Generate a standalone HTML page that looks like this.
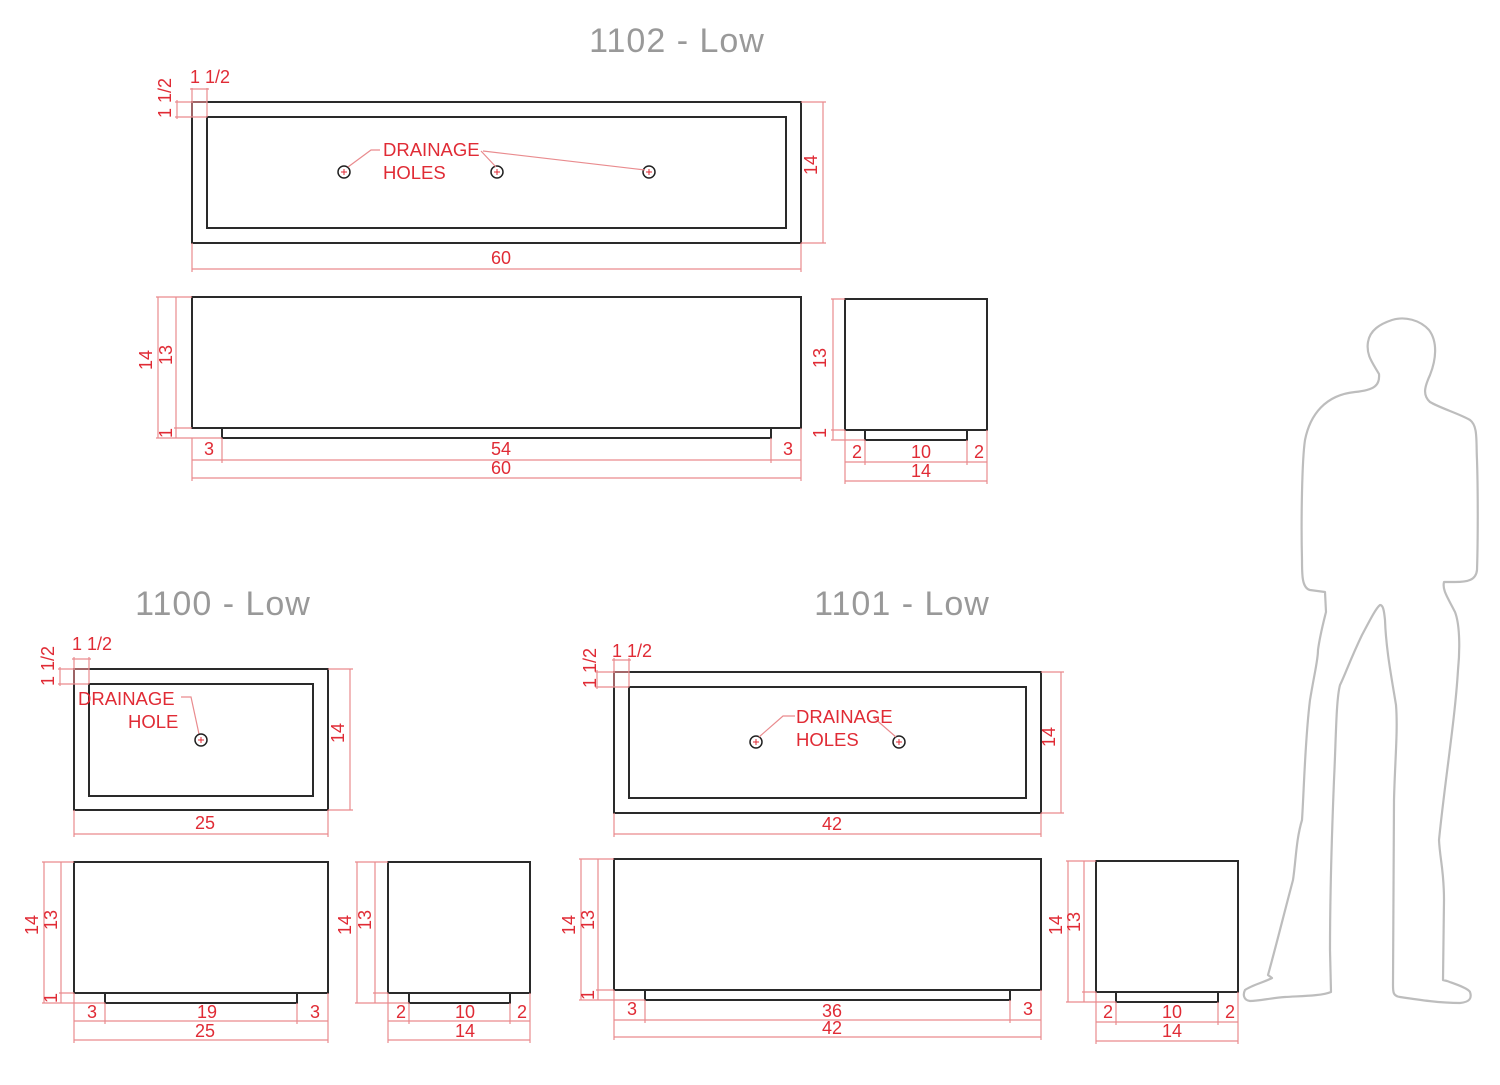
<!DOCTYPE html>
<html><head><meta charset="utf-8"><style>
html,body{margin:0;padding:0;background:#fff}
svg{display:block}
.k{fill:none;stroke:#2a2a2a;stroke-width:2}
.d{stroke:#e98b8e;stroke-width:1.2;fill:none}
.t{fill:#e02b35;font-family:"Liberation Sans",sans-serif;font-size:18px;text-anchor:middle}
.l{fill:#e02b35;font-family:"Liberation Sans",sans-serif;font-size:18.5px}
.h{fill:#999;font-family:"Liberation Sans",sans-serif;font-size:34px;text-anchor:middle;letter-spacing:1px}
.c{fill:none;stroke:#222;stroke-width:1.5}
.p{stroke:#e02b35;stroke-width:1}
</style></head><body>
<svg width="1500" height="1085" viewBox="0 0 1500 1085" xmlns="http://www.w3.org/2000/svg">
<text class="h" x="677" y="52">1102 - Low</text>
<text class="h" x="223" y="615">1100 - Low</text>
<text class="h" x="902" y="615">1101 - Low</text>

<rect class="k" x="192" y="102" width="609" height="141"/>
<rect class="k" x="207" y="117" width="579" height="111"/>
<path class="d" d="M801 102H826M801 243H826M823 102V243M192 243V272M801 243V272M192 269H801
M192 88V117M207 88V117M190 89H209M175 102H207M175 117H207M177 100V119"/>
<text class="t" transform="translate(817,165) rotate(-90)">14</text>
<text class="t" x="501" y="264">60</text>
<text class="t" x="210" y="83">1 1/2</text>
<text class="t" transform="translate(171,98) rotate(-90)">1 1/2</text>
<circle class="c" cx="344" cy="172" r="6"/><path class="p" d="M341 172H347M344 169V175"/>
<circle class="c" cx="497" cy="172" r="6"/><path class="p" d="M494 172H500M497 169V175"/>
<circle class="c" cx="649" cy="172" r="6"/><path class="p" d="M646 172H652M649 169V175"/>
<path class="d" d="M348 167L371 150H380M481 151L496 167M483 151L645 170"/>
<text class="l" x="383" y="156">DRAINAGE</text>
<text class="l" x="383" y="179">HOLES</text>

<rect class="k" x="192" y="297" width="609" height="131"/>
<rect class="k" x="222" y="428" width="549" height="10"/>
<path class="d" d="M156 297H192M174 428H192M156 438H222M158 297V438M176 297V438
M192 438V481M222 438V463M771 438V463M801 428V481M192 460H801M192 478H801"/>
<text class="t" transform="translate(152,360) rotate(-90)">14</text>
<text class="t" transform="translate(172,355) rotate(-90)">13</text>
<text class="t" transform="translate(172,433) rotate(-90)">1</text>
<text class="t" x="209" y="455">3</text><text class="t" x="501" y="455">54</text><text class="t" x="788" y="455">3</text>
<text class="t" x="501" y="474">60</text>
<rect class="k" x="845" y="299" width="142" height="131"/>
<rect class="k" x="865" y="430" width="102" height="10"/>
<path class="d" d="M831 299H845M831 430H845M831 440H865M833 299V440
M845 430V484M865 440V465M967 440V465M987 430V484M845 462H987M845 481H987"/>
<text class="t" transform="translate(826,358) rotate(-90)">13</text>
<text class="t" transform="translate(826,433) rotate(-90)">1</text>
<text class="t" x="857" y="458">2</text><text class="t" x="921" y="458">10</text><text class="t" x="979" y="458">2</text>
<text class="t" x="921" y="477">14</text>

<rect class="k" x="74" y="669" width="254" height="141"/>
<rect class="k" x="89" y="684" width="224" height="112"/>
<path class="d" d="M328 669H353M328 810H353M350 669V810M74 810V837M328 810V837M74 834H328
M74 657V684M89 657V684M72 659H91M58 669H89M58 684H89M60 667V686"/>
<text class="t" transform="translate(344,733) rotate(-90)">14</text>
<text class="t" x="205" y="829">25</text>
<text class="t" x="92" y="650">1 1/2</text>
<text class="t" transform="translate(54,666) rotate(-90)">1 1/2</text>
<text class="l" x="78" y="705">DRAINAGE</text>
<text class="l" x="128" y="728">HOLE</text>
<path class="d" d="M181 697H191L199 734"/>
<circle class="c" cx="201" cy="740" r="6"/><path class="p" d="M198 740H204M201 737V743"/>
<rect class="k" x="74" y="862" width="254" height="131"/>
<rect class="k" x="105" y="993" width="192" height="10"/>
<path class="d" d="M42 862H74M59 993H74M42 1003H105M44 862V1003M61 862V1003
M74 993V1043M105 1003V1024M297 1003V1024M328 993V1043M74 1021H328M74 1040H328"/>
<text class="t" transform="translate(38,925) rotate(-90)">14</text>
<text class="t" transform="translate(57,920) rotate(-90)">13</text>
<text class="t" transform="translate(57,998) rotate(-90)">1</text>
<text class="t" x="92" y="1018">3</text><text class="t" x="207" y="1018">19</text><text class="t" x="315" y="1018">3</text>
<text class="t" x="205" y="1037">25</text>
<rect class="k" x="388" y="862" width="142" height="131"/>
<rect class="k" x="409" y="993" width="101" height="10"/>
<path class="d" d="M355 862H388M373 993H388M355 1003H409M357 862V1003M375 862V1003
M388 993V1043M409 1003V1024M510 1003V1024M530 993V1043M388 1021H530M388 1040H530"/>
<text class="t" transform="translate(351,925) rotate(-90)">14</text>
<text class="t" transform="translate(371,920) rotate(-90)">13</text>
<text class="t" x="401" y="1018">2</text><text class="t" x="465" y="1018">10</text><text class="t" x="522" y="1018">2</text>
<text class="t" x="465" y="1037">14</text>

<rect class="k" x="614" y="672" width="427" height="141"/>
<rect class="k" x="629" y="687" width="397" height="111"/>
<path class="d" d="M1041 672H1064M1041 813H1064M1061 672V813M614 813V837M1041 813V837M614 834H1041
M614 658V687M629 658V687M612 660H631M595 672H629M595 687H629M597 670V689"/>
<text class="t" transform="translate(1055,737) rotate(-90)">14</text>
<text class="t" x="832" y="830">42</text>
<text class="t" x="632" y="657">1 1/2</text>
<text class="t" transform="translate(596,668) rotate(-90)">1 1/2</text>
<circle class="c" cx="756" cy="742" r="6"/><path class="p" d="M753 742H759M756 739V745"/>
<circle class="c" cx="899" cy="742" r="6"/><path class="p" d="M896 742H902M899 739V745"/>
<path class="d" d="M759 737L783 716H795M873 717L896 737"/>
<text class="l" x="796" y="723">DRAINAGE</text>
<text class="l" x="796" y="746">HOLES</text>
<rect class="k" x="614" y="859" width="427" height="131"/>
<rect class="k" x="645" y="990" width="365" height="10"/>
<path class="d" d="M579 859H614M596 990H614M579 1000H645M581 859V1000M598 859V1000
M614 990V1040M645 1000V1023M1010 1000V1023M1041 990V1040M614 1020H1041M614 1037H1041"/>
<text class="t" transform="translate(575,925) rotate(-90)">14</text>
<text class="t" transform="translate(594,920) rotate(-90)">13</text>
<text class="t" transform="translate(594,995) rotate(-90)">1</text>
<text class="t" x="632" y="1015">3</text><text class="t" x="832" y="1017">36</text><text class="t" x="1028" y="1015">3</text>
<text class="t" x="832" y="1034">42</text>
<rect class="k" x="1096" y="861" width="142" height="131"/>
<rect class="k" x="1116" y="992" width="102" height="10"/>
<path class="d" d="M1066 861H1096M1082 992H1096M1066 1002H1116M1068 861V1002M1084 861V1002
M1096 992V1044M1116 1002V1025M1218 1002V1025M1238 992V1044M1096 1022H1238M1096 1041H1238"/>
<text class="t" transform="translate(1062,925) rotate(-90)">14</text>
<text class="t" transform="translate(1080,922) rotate(-90)">13</text>
<text class="t" x="1108" y="1018">2</text><text class="t" x="1172" y="1018">10</text><text class="t" x="1230" y="1018">2</text>
<text class="t" x="1172" y="1037">14</text>

<path fill="none" stroke="#bdbdbd" stroke-width="2.2" stroke-linejoin="round" d="
M1379 374 C1372 362 1366 355 1368 342 C1370 330 1380 324 1392 320 C1405 316 1420 320 1429 330
C1438 342 1436 360 1430 375 C1425 386 1422 395 1430 402 C1440 408 1460 414 1470 420
C1478 426 1476 440 1477 460 C1478 490 1478 540 1477 570 C1476 580 1468 582 1455 582 L1444 582
C1442 590 1448 598 1455 612 C1460 625 1460 650 1458 670 C1455 720 1445 780 1439 840
C1440 860 1444 870 1444 900 L1443 980 L1447 981 C1455 984 1468 988 1470 992 C1472 998 1470 1002 1460 1003
C1440 1003 1420 1000 1400 997 C1393 996 1393 992 1393 985 L1394 800 C1395 760 1398 730 1396 705
C1392 680 1386 650 1385 620 C1384 610 1383 605 1380 605 C1376 608 1370 620 1362 635
C1350 660 1345 675 1340 685 C1336 700 1336 740 1334 780 C1332 830 1330 900 1330 950 L1331 992
C1322 996 1300 996 1285 997 C1270 998 1260 1001 1250 1001 C1243 1000 1243 994 1245 990
C1252 985 1265 982 1272 978 L1268 975 C1275 950 1285 910 1293 880 C1296 860 1296 840 1302 820
C1304 790 1305 740 1310 700 C1315 670 1318 660 1318 650 C1320 635 1324 620 1326 612 L1325 592
L1310 590 C1302 588 1302 575 1302 560 C1301 520 1302 460 1305 440 C1310 415 1325 395 1355 392
C1375 390 1380 385 1379 374 Z"/>
</svg>
</body></html>
